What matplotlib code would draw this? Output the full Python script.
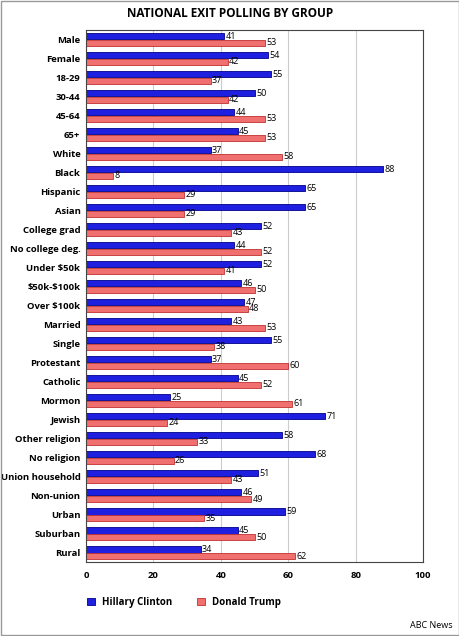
import matplotlib.pyplot as plt
import numpy as np

groups = ["Male", "Female", "18-29", "30-44", "45-64", "65+", "White", "Black",
          "Hispanic", "Asian", "College grad", "No college deg.", "Under $50k",
          "$50k-$100k", "Over $100k", "Married", "Single", "Protestant", "Catholic",
          "Mormon", "Jewish", "Other religion", "No religion", "Union household",
          "Non-union", "Urban", "Suburban", "Rural"]
clinton = [41, 54, 55, 50, 44, 45, 37, 88, 65, 65, 52, 44, 52, 46, 47, 43, 55, 37,
           45, 25, 71, 58, 68, 51, 46, 59, 45, 34]
trump = [53, 42, 37, 42, 53, 53, 58, 8, 29, 29, 43, 52, 41, 50, 48, 53, 38, 60,
         52, 61, 24, 33, 26, 43, 49, 35, 50, 62]

plt.rcParams['font.family'] = ['Open Sans', 'DejaVu Sans']
plt.rcParams['text.parse_math'] = False
fig = plt.figure(figsize=(4.6, 6.36), dpi=100)
ax = fig.add_axes([0.187, 0.116, 0.733, 0.837])

y = np.arange(len(groups))
h = 0.33
b1 = ax.barh(y - h / 2 - 0.01, clinton, height=h, color='#1f1fe0', edgecolor='#00008b', linewidth=0.6,
             label='Hillary Clinton')
b2 = ax.barh(y + h / 2 + 0.01, trump, height=h, color='#f07070', edgecolor='#c03030', linewidth=0.6,
             label='Donald Trump')
for bars in (b1, b2):
    for r in bars:
        ax.text(r.get_width() + 0.4, r.get_y() + r.get_height() / 2, str(int(r.get_width())),
                va='center', ha='left', fontsize=6.5)

ax.set_yticks(y)
ax.set_yticklabels(groups, fontsize=6.8, fontweight='bold')
ax.set_ylim(len(groups) - 0.5, -0.5)
ax.set_xlim(0, 100)
ax.set_xticks([0, 20, 40, 60, 80, 100])
ax.tick_params(axis='x', labelsize=6.8, length=0, pad=6)
ax.tick_params(axis='y', length=0, pad=4)
for t in ax.get_xticklabels():
    t.set_fontweight('bold')
ax.grid(axis='x', color='#cccccc', linewidth=0.8)
ax.set_axisbelow(True)
for s in ax.spines.values():
    s.set_color('#444444')

fig.text(0.5, 0.978, "NATIONAL EXIT POLLING BY GROUP", ha='center', va='center',
         fontsize=8.5, fontweight='bold')
fig.legend(handles=[b1, b2], loc='center', bbox_to_anchor=(0.4, 0.053), ncol=2,
           frameon=False, handlelength=0.8, handleheight=0.8, columnspacing=2.5,
           prop={'weight': 'bold', 'size': 7})
fig.text(0.985, 0.01, "ABC News", ha='right', va='bottom', fontsize=6.5)
fig.patches.append(plt.Rectangle((0.002, 0.002), 0.996, 0.996, transform=fig.transFigure,
                                 fill=False, edgecolor='#999999', linewidth=1))
fig.savefig("out.png", dpi=100)
